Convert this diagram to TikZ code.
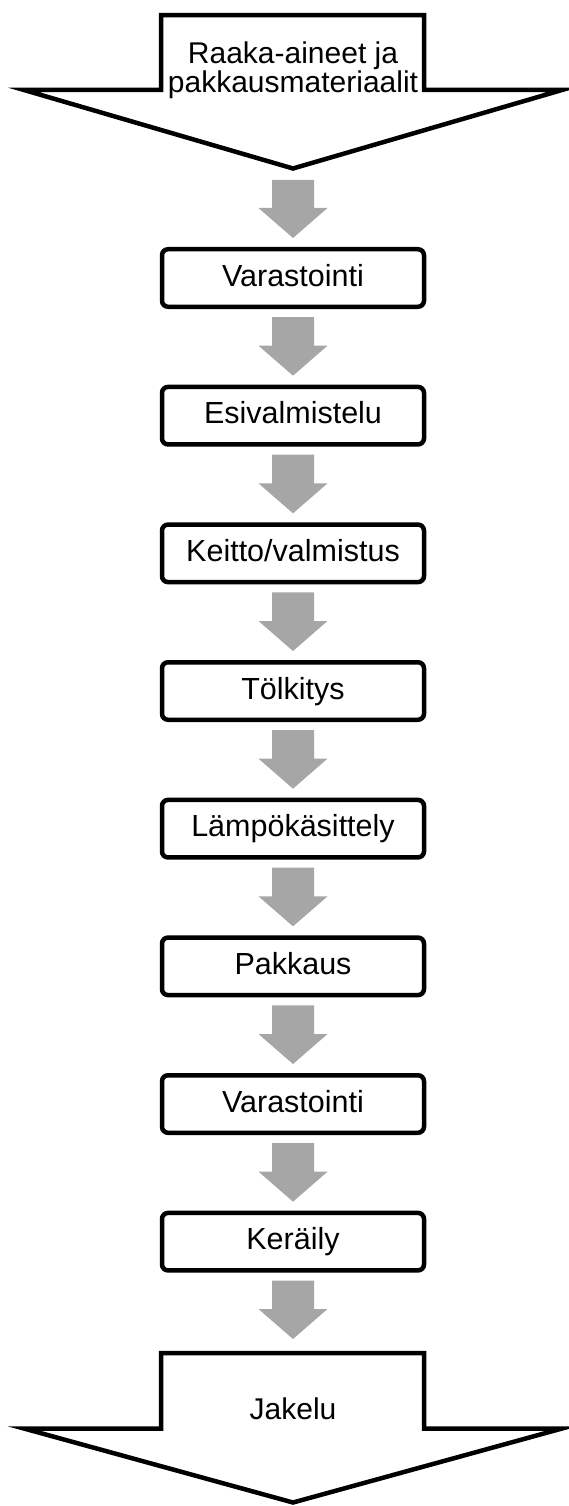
\documentclass[tikz,border=0pt]{standalone}
\usepackage{fontspec}
\setmainfont{Liberation Sans}
\usetikzlibrary{calc}
\definecolor{arrowgray}{RGB}{166,166,166}
\tikzset{
  stepbox/.style={draw=black, fill=white, line width=4.5pt, rounded corners=6pt,
    minimum width=262pt, minimum height=57.5pt, inner sep=0pt,
    font=\fontsize{30.5}{34}\selectfont, text height=21.8pt, text depth=5.5pt},
  bigarrow/.style={draw=black, fill=white, line width=4.5pt, line join=miter},
  grayarrow/.style={fill=arrowgray, draw=none},
  bigtext/.style={font=\fontsize{30}{27}\selectfont, align=center, inner sep=0pt}
}
\newcommand\flowarrow[2]{%
  \fill[grayarrow] let \p1=(#1), \p2=(#2) in
    (\x1-21pt,\y1) -- (\x1+21pt,\y1) -- (\x1+21pt,\y2+30pt) -- (\x1+34.5pt,\y2+30pt)
    -- (\x1,\y2) -- (\x1-34.5pt,\y2+30pt) -- (\x1-21pt,\y2+30pt) -- cycle;}
\begin{document}
\begin{tikzpicture}[x=1pt,y=-1pt]
\useasboundingbox (0,0) rectangle (569,1506);
% top block arrow
\draw[bigarrow] (161,15.2) -- (424,15.2) -- (424,90) -- (562,90) -- (293,168.5)
  -- (24,90) -- (161,90) -- cycle;
\node[bigtext] (src) at (293,70) {Raaka-aineet ja\\pakkausmateriaalit};
\coordinate (srctip) at (293,171);
% bottom block arrow
\draw[bigarrow] (161,1353.2) -- (424,1353.2) -- (424,1428.5) -- (562,1428.5) -- (293,1502.5)
  -- (24,1428.5) -- (161,1428.5) -- cycle;
\node[font=\fontsize{30}{34}\selectfont, inner sep=0pt, anchor=base] (dst) at (293,1419) {Jakelu};
\coordinate (dsttop) at (293,1351);
% boxes
\node[stepbox] (b1) at (293,278) {Varastointi};
\node[stepbox] (b2) at (293,415.67) {Esivalmistelu};
\node[stepbox] (b3) at (293,553.33) {Keitto/valmistus};
\node[stepbox] (b4) at (293,691) {Tölkitys};
\node[stepbox] (b5) at (293,828.67) {Lämpökäsittely};
\node[stepbox] (b6) at (293,966.33) {Pakkaus};
\node[stepbox] (b7) at (293,1104) {Varastointi};
\node[stepbox] (b8) at (293,1241.67) {Keräily};
% gray arrows
\flowarrow{$(srctip)+(0,9)$}{$(b1.north)+(0,-9)$}
\flowarrow{$(b1.south)+(0,8)$}{$(b2.north)+(0,-9)$}
\flowarrow{$(b2.south)+(0,8)$}{$(b3.north)+(0,-9)$}
\flowarrow{$(b3.south)+(0,8)$}{$(b4.north)+(0,-9)$}
\flowarrow{$(b4.south)+(0,8)$}{$(b5.north)+(0,-9)$}
\flowarrow{$(b5.south)+(0,8)$}{$(b6.north)+(0,-9)$}
\flowarrow{$(b6.south)+(0,8)$}{$(b7.north)+(0,-9)$}
\flowarrow{$(b7.south)+(0,8)$}{$(b8.north)+(0,-9)$}
\flowarrow{$(b8.south)+(0,8)$}{$(dsttop)+(0,-12)$}
\end{tikzpicture}
\end{document}
